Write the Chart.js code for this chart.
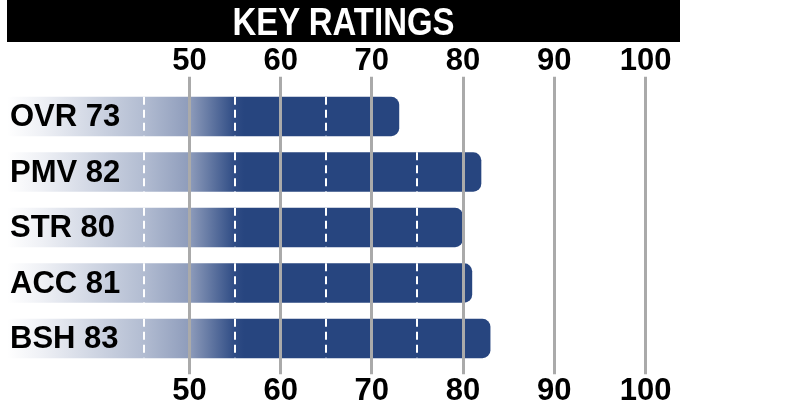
<!DOCTYPE html>
<html>
<head>
<meta charset="utf-8">
<script src="https://cdn.jsdelivr.net/npm/chart.js@4"></script>
<style>
  body { margin: 0; background: #fff; }
  #wrap { position: relative; width: 785px; height: 415px; }
  #title {
    position: absolute; left: 7px; top: 0; width: 673px; height: 42px;
    background: #000; color: #fff; text-align: center;
    font: bold 39px "Liberation Sans", sans-serif;
    line-height: 44px;
  }
  #title span { display: inline-block; transform: scaleX(0.845); }
  canvas { position: absolute; left: 0; top: 0; }
</style>
</head>
<body>
<div id="wrap">
  <canvas id="ratings" width="785" height="415"></canvas>
  <div id="title"><span>KEY RATINGS</span></div>
</div>
<script>
// datos de la grafica
const categories = ["OVR", "PMV", "STR", "ACC", "BSH"];
const ratings = [73, 82, 80, 81, 83];
const tickValues = [50, 60, 70, 80, 90, 100];
const dashValues = [45, 55, 65, 75, 85, 95];
const xMin = 30;
const xMax = 104;

const barBlue = "#27457f";
const gridGray = "#aaaaaa";
const labelFont = { family: "'Liberation Sans', Arial, sans-serif", size: 31, weight: "bold", lineHeight: 1 };

// gradiente blanco -> azul al inicio de cada barra
function barGradient(ctx) {
  const chart = ctx.chart;
  if (!chart.chartArea) return barBlue;
  const xs = chart.scales.x;
  const g = chart.ctx.createLinearGradient(xs.getPixelForValue(xMin), 0, xs.getPixelForValue(56), 0);
  g.addColorStop(0, "#ffffff");
  g.addColorStop(0.15, "#eef0f5");
  g.addColorStop(0.57, "#b3bdd2");
  g.addColorStop(0.77, "#8e9cbb");
  g.addColorStop(0.96, "#2f4c85");
  g.addColorStop(1, barBlue);
  return g;
}

// lineas blancas punteadas y etiquetas sobre las barras
const barDecor = {
  id: "barDecor",
  afterDatasetsDraw(chart) {
    const ctx = chart.ctx;
    const xs = chart.scales.x;
    const meta = chart.getDatasetMeta(0);
    ctx.save();
    meta.data.forEach((bar, i) => {
      const top = bar.y - bar.height / 2;
      const bottom = bar.y + bar.height / 2;
      ctx.strokeStyle = "#ffffff";
      ctx.lineWidth = 2;
      ctx.setLineDash([8, 5]);
      dashValues.forEach((v) => {
        if (v >= ratings[i] - 0.5) return;
        const px = Math.round(xs.getPixelForValue(v));
        ctx.beginPath();
        ctx.moveTo(px, top);
        ctx.lineTo(px, bottom);
        ctx.stroke();
      });
      ctx.setLineDash([]);
      ctx.fillStyle = "#000";
      ctx.font = "bold 31px 'Liberation Sans', Arial, sans-serif";
      ctx.textAlign = "left";
      ctx.textBaseline = "middle";
      ctx.fillText(categories[i] + " " + ratings[i], 10, bar.y + 1);
    });
    ctx.restore();
  },
};

function setTicks(scale) {
  scale.ticks = tickValues.map((v) => ({ value: v }));
}

new Chart(document.getElementById("ratings").getContext("2d"), {
  type: "bar",
  data: {
    labels: categories,
    datasets: [
      {
        data: ratings,
        base: xMin,
        backgroundColor: barGradient,
        borderRadius: 8,
        borderSkipped: "start",
        barPercentage: 0.71,
        categoryPercentage: 1,
      },
    ],
  },
  options: {
    indexAxis: "y",
    responsive: false,
    animation: false,
    layout: { padding: { left: 7, right: 103, top: 0, bottom: 0 } },
    plugins: { legend: { display: false }, tooltip: { enabled: false } },
    scales: {
      y: { display: false },
      x: {
        position: "bottom",
        min: xMin,
        max: xMax,
        afterBuildTicks: setTicks,
        afterFit: (s) => { s.height = 48.75; },
        border: { display: false },
        grid: { color: gridGray, lineWidth: 3, drawOnChartArea: false, tickLength: 8, z: 1 },
        ticks: { color: "#000", font: labelFont, padding: 2, maxRotation: 0 },
      },
      x2: {
        position: "top",
        min: xMin,
        max: xMax,
        afterBuildTicks: setTicks,
        afterFit: (s) => { s.height = 88.75; },
        border: { display: false },
        grid: { color: gridGray, lineWidth: 3, tickLength: 12, z: 1 },
        ticks: { color: "#000", font: labelFont, padding: 0, maxRotation: 0 },
      },
    },
  },
  plugins: [barDecor],
});
</script>
</body>
</html>
